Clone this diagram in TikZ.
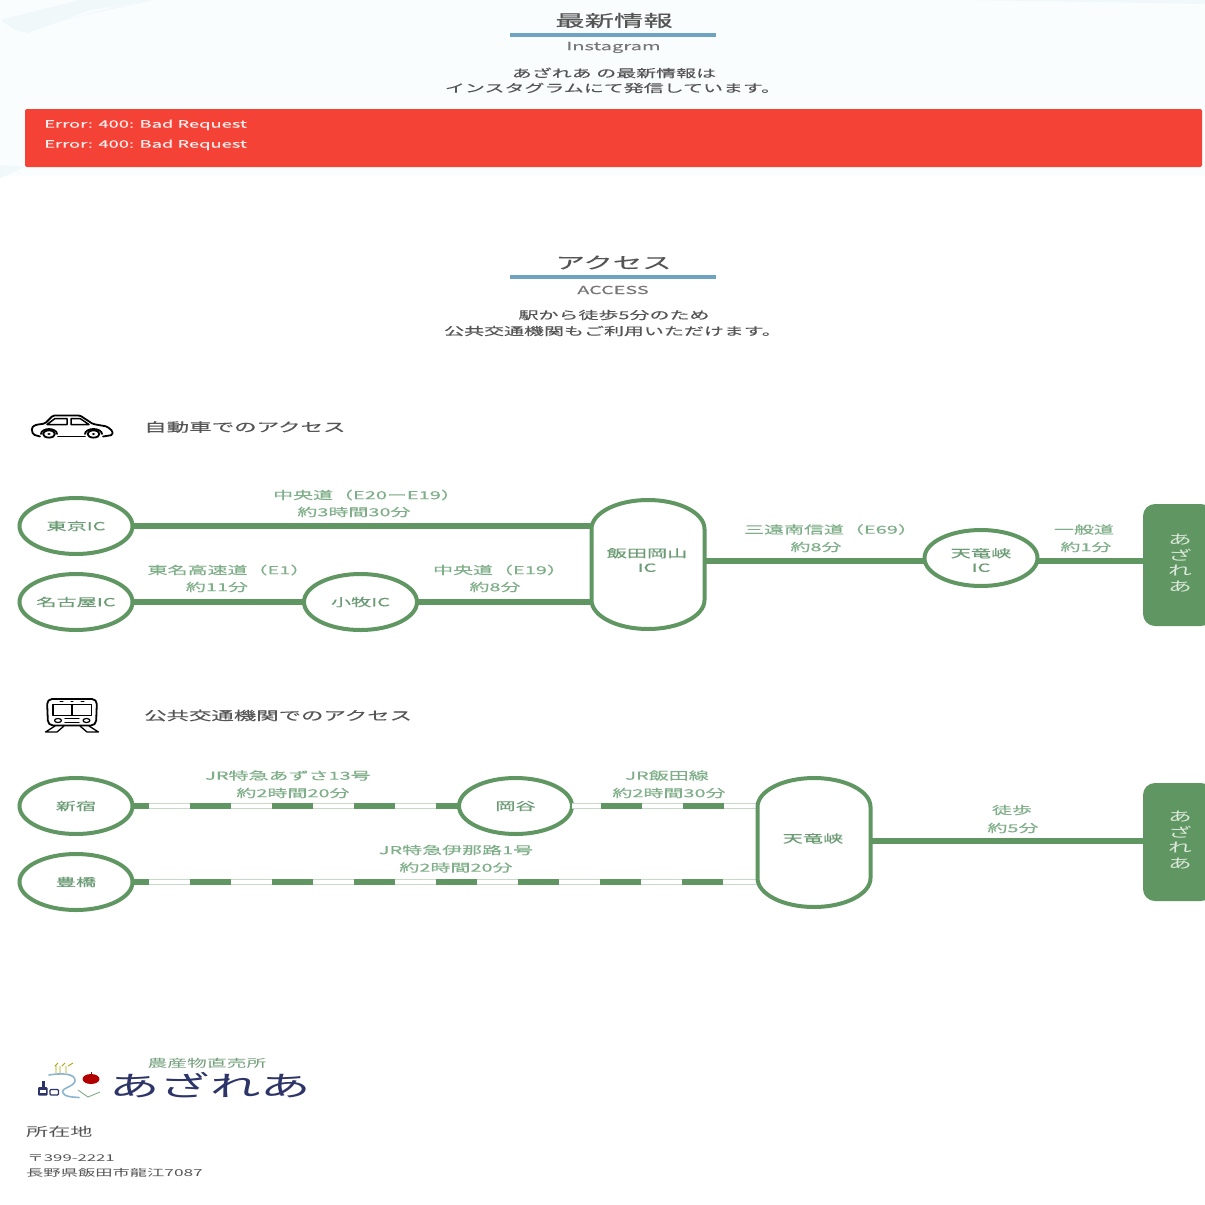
\documentclass[tikz,border=0pt]{standalone}
\usepackage{fontspec}
\usetikzlibrary{shapes.geometric,calc}
\newfontfamily\jp[FakeStretch=1.8,FakeBold=0.25]{Noto Sans CJK JP}
\newfontfamily\jpl[FakeStretch=1.8]{Noto Sans CJK JP}
\newcommand{\fs}[1]{\fontsize{#1}{#1}\selectfont\jp}
\newcommand{\fl}[1]{\fontsize{#1}{#1}\selectfont\jpl}
\definecolor{rail}{HTML}{5F9661}
\definecolor{lab}{HTML}{7FAF88}
\definecolor{nodetx}{HTML}{6C9C75}
\definecolor{dark}{HTML}{555555}
\definecolor{rule}{HTML}{6FA3C2}
\definecolor{navy}{HTML}{2C3468}
\definecolor{alertred}{HTML}{F44336}
\definecolor{wash}{HTML}{FAFDFE}
\definecolor{washb}{HTML}{F0F8FA}
\tikzset{
 x=1pt,y=1pt,
 stn/.style={ellipse,draw=rail,line width=4pt,fill=white,minimum width=113pt,minimum height=56pt,inner sep=0pt,outer sep=0pt,text=nodetx,font=\fs{11.2}},
 pillbase/.style={rectangle,minimum width=113pt,inner sep=0pt,outer sep=0pt},
 pilltxt/.style={text=nodetx,font=\fs{11.2},align=center,inner sep=0pt},
 pillline/.style={draw=rail,line width=4pt,fill=white},
 road/.style={draw=rail,line width=6pt},
 goal/.style={rectangle,inner sep=0pt,outer sep=0pt,minimum width=70pt,fill=rail,rounded corners=12pt},
 goaltxt/.style={text=rail!22!white,inner sep=0pt,align=center,font=\fontsize{13.2}{15.4}\selectfont\jpl},
 lbl/.style={text=lab,font=\fs{11.1},inner sep=0pt},
 head/.style={text=dark,inner sep=0pt},
 hrule/.style={draw=rule,line width=3.4pt},
 para/.style={text=dark,font=\fs{11.1},inner sep=0pt},
 ico/.style={draw=black,line width=1.8pt,line join=round,line cap=round,fill=none},
}
\newcommand{\railline}[3]{%
 \draw[draw=rail!35!white,line width=6pt] #1 -- #2;
 \draw[draw=white,line width=4pt] #1 -- #2;
 \draw[draw=rail,line width=6.5pt,dash pattern=on 41pt off 41pt,dash phase=#3] #1 -- #2;}
\newcommand{\pillpath}[1]{%
 \draw[pillline] ($(#1.north west)+(0,-29)$) arc[start angle=180,end angle=0,x radius=56.5,y radius=29] -- ($(#1.south east)+(0,29)$) arc[start angle=360,end angle=180,x radius=56.5,y radius=29] -- cycle;}
\begin{document}
\begin{tikzpicture}
\useasboundingbox (0,0) rectangle (1205,-1205);
\fill[white] (0,0) rectangle (1205,-1205);
% pale washed background
\fill[wash] (0,0) rectangle (1205,-176);
\fill[washb] (0,-20) -- (80,0) -- (155,0) -- (90,-10) -- (28,-33) -- (15,-30) -- cycle;
\fill[washb] (110,-8) -- (155,0) -- (90,-14) -- (25,-30) -- cycle;
\fill[washb] (0,-165) -- (25,-167) -- (0,-178) -- cycle;
\fill[washb] (960,0) -- (1205,0) -- (1205,-4) -- (1100,-2) -- cycle;
% headings
\node[head,font=\fs{16.3}] (h1) at (614,-20.5) {最新情報};
\coordinate (r1a) at (510,-35); \coordinate (r1b) at (716,-35);
\draw[hrule] (r1a) -- (r1b);
\node[head,font=\fs{11.2},text=dark!80!white] (h1s) at (613.5,-47.5) {Instagram};
\node[para] (p1) at (614,-73) {あざれあ の最新情報は};
\node[para] (p2) at (613,-88) {インスタグラムにて発信しています。};
\node[fill=alertred,minimum width=1177pt,minimum height=58pt,inner sep=0pt,rounded corners=2pt] (err) at (613.5,-138) {};
\node[anchor=west,text=white!93!red,font=\fs{10.2},inner sep=0pt] (e1) at (44,-124.8) {Error: 400: Bad Request};
\node[anchor=west,text=white!93!red,font=\fs{10.2},inner sep=0pt] (e2) at (44,-144.8) {Error: 400: Bad Request};
\node[head,font=\fs{16.3}] (h2) at (613.5,-262.5) {アクセス};
\coordinate (r2a) at (510,-277); \coordinate (r2b) at (716,-277);
\draw[hrule] (r2a) -- (r2b);
\node[head,font=\fs{11},text=dark!80!white] (h2s) at (613,-290) {ACCESS};
\node[para] (p3) at (614,-315) {駅から徒歩5分のため};
\node[para] (p4) at (613,-331) {公共交通機関もご利用いただけます。};
% section titles
\node[anchor=west,head,font=\fs{12.5}] (s1) at (144,-427) {自動車でのアクセス};
\node[anchor=west,head,font=\fs{12.45}] (s2) at (144,-715.5) {公共交通機関でのアクセス};
% car icon
\draw[ico,rounded corners=1.5pt] (40,-436.5) -- (33,-434.5) -- (31.5,-428) -- (35,-425) -- (45,-423.5) -- (53,-415.5) -- (80,-415.5) -- (93,-424) -- (107,-426.5) -- (112.5,-431) -- (112.5,-435) -- (103,-436.5);
\draw[ico] (58,-436.5) -- (85,-436.5);
\draw[ico] (41,-434) arc[start angle=180,end angle=0,x radius=8,y radius=5];
\draw[ico] (85,-434) arc[start angle=180,end angle=0,x radius=8.5,y radius=5];
\draw[ico] (49,-434) ellipse[x radius=6,y radius=3.6];
\draw[ico] (93.5,-434) ellipse[x radius=6,y radius=3.6];
\fill[black] (49,-434) ellipse[x radius=1.8,y radius=1];
\fill[black] (93.5,-434) ellipse[x radius=1.8,y radius=1];
\draw[ico,line width=1.5pt] (47,-424.5) -- (55,-418.5) -- (67,-418.5) -- (67,-424.5) -- cycle;
\draw[ico,line width=1.5pt] (71,-424.5) -- (71,-418.5) -- (80,-418.5) -- (89,-424.5) -- cycle;
% train icon
\draw[ico,rounded corners=5pt] (48,-725.5) -- (47,-699) -- (97,-699) -- (96,-725.5) -- cycle;
\draw[ico] (53,-704.5) rectangle (91.5,-715.5);
\draw[ico,line width=1.3pt] (72,-704.5) -- (72,-715.5);
\draw[ico,line width=1pt] (60,-701.5) -- (63,-701.5) (71,-701.5) -- (73,-701.5) (81,-701.5) -- (84,-701.5);
\draw[ico,line width=1.2pt] (58,-720.5) ellipse[x radius=3.5,y radius=2];
\draw[ico,line width=1.2pt] (86.5,-720.5) ellipse[x radius=3.5,y radius=2];
\draw[ico,line width=1.2pt] (65,-718.7) -- (79,-718.7) (65,-722.3) -- (79,-722.3);
\draw[ico,line width=1.3pt] (55,-726) -- (45.5,-732) -- (57,-732) -- (64,-726);
\draw[ico,line width=1.3pt] (89,-726) -- (98.5,-732) -- (87,-732) -- (80,-726);
% ---- car route
\node[pillbase,minimum height=129pt] (iida) at (648,-564.5) {};
\node[goal,minimum height=122pt] (goal1) at (1178,-565) {};
\node[stn] (tokyo) at (76,-526) {東京IC};
\node[stn] (nagoya) at (76,-602) {名古屋IC};
\node[stn] (komaki) at (360.5,-602) {小牧IC};
\node[stn] (tenryuic) at (981,-558) {};
\coordinate (row1) at (0,-561);
\draw[road] (tokyo.east) -- (tokyo.east -| iida.west);
\draw[road] (nagoya.east) -- (komaki.west);
\draw[road] (komaki.east) -- (komaki.east -| iida.west);
\draw[road] (iida.east |- row1) -- (tenryuic.west |- row1);
\draw[road] (tenryuic.east |- row1) -- (goal1.west |- row1);
\pillpath{iida}
\node[pilltxt] (iidat) at (647,-560) {飯田岡山\\[3.2pt]IC};
\node[pilltxt] (tenryuict) at (981,-560) {天竜峡\\[3.2pt]IC};
\node[goaltxt] (goal1t) at (1180,-563) {あ\\ざ\\れ\\あ};
\node[lbl] (l1) at (367,-495) {中央道（E20ーE19）};
\node[lbl] (l1b) at (354,-512) {約3時間30分};
\node[lbl] (l2) at (229,-570) {東名高速道（E1）};
\node[lbl] (l2b) at (217,-587) {約11分};
\node[lbl] (l3) at (500,-570) {中央道（E19）};
\node[lbl] (l3b) at (495,-587) {約8分};
\node[lbl] (l4) at (831,-529.5) {三遠南信道（E69）};
\node[lbl] (l4b) at (816,-547) {約8分};
\node[lbl] (l5) at (1084,-529.5) {一般道};
\node[lbl] (l5b) at (1086,-547) {約1分};
% ---- public transport route
\node[pillbase,minimum height=129pt] (tenryu) at (814,-842.5) {};
\node[goal,minimum height=118pt] (goal2) at (1178,-842) {};
\node[stn] (shinjuku) at (76,-806) {新宿};
\node[stn] (toyo) at (76,-882) {豊橋};
\node[stn] (okaya) at (515.5,-806) {岡谷};
\railline{(shinjuku.east)}{(okaya.west)}{25pt}
\railline{(okaya.east)}{(okaya.east -| tenryu.west)}{53pt}
\railline{(toyo.east)}{(toyo.east -| tenryu.west)}{25pt}
\coordinate (row2) at (0,-841);
\draw[road] (tenryu.east |- row2) -- (goal2.west |- row2);
\pillpath{tenryu}
\node[pilltxt] (tenryut) at (813,-838.5) {天竜峡};
\node[goaltxt] (goal2t) at (1180,-840) {あ\\ざ\\れ\\あ};
\node[lbl] (m1) at (288,-775.5) {JR特急あずさ13号};
\node[lbl] (m1b) at (293,-793) {約2時間20分};
\node[lbl] (m2) at (667,-775.5) {JR飯田線};
\node[lbl] (m2b) at (669,-793) {約2時間30分};
\node[lbl] (m3) at (456,-850) {JR特急伊那路1号};
\node[lbl] (m3b) at (456,-867.5) {約2時間20分};
\node[lbl] (m4) at (1012,-810) {徒歩};
\node[lbl] (m4b) at (1013,-828) {約5分};
% ---- logo
\node[inner sep=0pt,text=lab!90!black,font=\fl{11}] (lg1) at (207,-1063) {農産物直売所};
\node[inner sep=0pt,text=navy,font=\fl{28}] (lg2) at (210,-1085) {あざれあ};
\fill[navy,rounded corners=1pt] (38,-1095.5) rectangle (47.5,-1087);
\fill[navy] (41.5,-1088) rectangle (44.5,-1081);
\fill[white] (40,-1090) rectangle (45.5,-1092.5);
\draw[draw=navy,line width=1.3pt,rounded corners=1pt] (50,-1095) rectangle (58.5,-1089.5);
\draw[draw=rule!80!white,line width=1.6pt,line cap=round] (49,-1075) .. controls (60,-1073) and (76,-1073) .. (75,-1081) .. controls (74,-1087) and (60,-1088) .. (63,-1093) .. controls (65,-1097) and (72,-1097) .. (79,-1097.5);
\draw[draw=lab,line width=.9pt] (78,-1090) -- (88,-1097) -- (100,-1092);
\fill[red!70!black] (91,-1079) ellipse[x radius=8.5,y radius=5];
\draw[draw=red!70!black,line width=.9pt] (91,-1074) -- (91,-1072);
\draw[draw=olive!70!yellow,line width=.9pt] (55,-1066) -- (58,-1063) (62,-1066) -- (65,-1063) (68,-1066) -- (73,-1063) (56,-1065) -- (56,-1073) (60,-1066) -- (60,-1073) (66,-1066) -- (66,-1073);
% ---- footer text
\node[anchor=west,inner sep=0pt,text=dark,font=\fl{12.3}] (f1) at (26,-1131.5) {所在地};
\node[anchor=west,inner sep=0pt,text=dark,font=\fl{9.3}] (f2) at (27,-1158) {〒399-2221};
\node[anchor=west,inner sep=0pt,text=dark,font=\fl{9.6}] (f3) at (26,-1173) {長野県飯田市龍江7087};
\end{tikzpicture}
\end{document}
